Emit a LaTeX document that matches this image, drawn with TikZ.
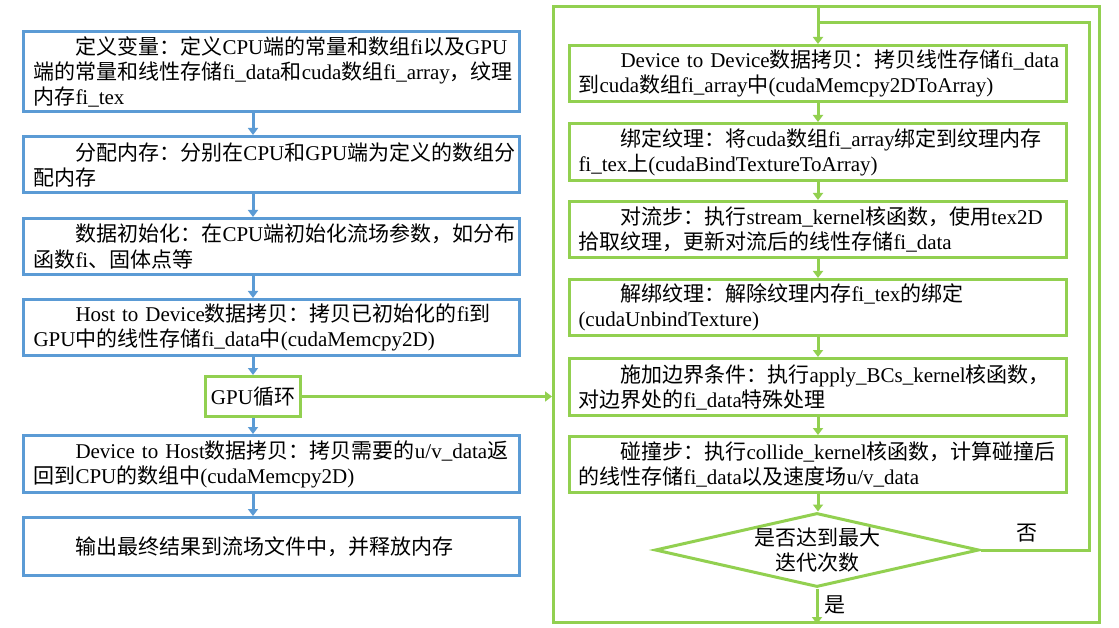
\documentclass[tikz,border=0pt]{standalone}
\usepackage{fontspec}
\setmainfont{Liberation Serif}
\newfontfamily\cjkfont{Noto Sans CJK SC}
\XeTeXinterchartokenstate=1
\newXeTeXintercharclass\cjkcls
\newcount\cjkcnt
\def\setcjkrange#1#2{\cjkcnt=#1\relax\loop\XeTeXcharclass\cjkcnt=\cjkcls\relax\ifnum\cjkcnt<#2\relax\advance\cjkcnt by 1\relax\repeat}
\setcjkrange{"4E00}{"9FFF}
\setcjkrange{"3000}{"303F}
\setcjkrange{"FF00}{"FFEF}
\XeTeXinterchartoks 0 \cjkcls = {\cjkfont}
\XeTeXinterchartoks 4095 \cjkcls = {\cjkfont}
\XeTeXinterchartoks \cjkcls 0 = {\rmfamily}
\XeTeXinterchartoks 4095 0 = {\rmfamily}
\usetikzlibrary{shapes.geometric,arrows.meta,calc}
\definecolor{lblue}{HTML}{5B9BD5}
\definecolor{lgreen}{HTML}{92D050}
\begin{document}
\begin{tikzpicture}[x=1pt,y=-1pt,
  every node/.style={font=\fontsize{21}{25}\selectfont},
  lbox/.style={draw=lblue, line width=3pt, text width=476pt, inner xsep=10pt, inner ysep=0pt, align=left},
  rbox/.style={draw=lgreen, line width=3pt, text width=479pt, inner xsep=9pt, inner ysep=0pt, align=left},
  gbox/.style={draw=lgreen, line width=3pt, inner sep=0pt},
  barrow/.style={draw=lblue, line width=3pt, -{Triangle[length=7pt,width=10pt]}},
  garrow/.style={draw=lgreen, line width=3pt, -{Triangle[length=7pt,width=10pt]}},
  gline/.style={draw=lgreen, line width=3pt},
  dia/.style={shape=diamond, draw=lgreen, line width=3pt, inner sep=0pt, minimum width=324pt, minimum height=74pt},
  plain/.style={inner sep=0pt}
]
\useasboundingbox (0,0) rectangle (1119,628);
\fill[white] (0,0) rectangle (1119,628);

% left column
\node[lbox, minimum height=80pt] (L1) at (271.5,71.5) {\hspace*{42pt}定义变量：定义CPU端的常量和数组fi以及GPU\\端的常量和线性存储fi\_data和cuda数组fi\_array，纹理\\内存fi\_tex};
\node[lbox, minimum height=56pt] (L2) at (271.5,164.5) {\hspace*{42pt}分配内存：分别在CPU和GPU端为定义的数组分\\配内存};
\node[lbox, minimum height=56pt] (L3) at (271.5,246.5) {\hspace*{42pt}数据初始化：在CPU端初始化流场参数，如分布\\函数fi、固体点等};
\node[lbox, minimum height=56pt] (L4) at (271.5,327.5) {\hspace*{42pt}Host~to~Device数据拷贝：拷贝已初始化的fi到\\GPU中的线性存储fi\_data中(cudaMemcpy2D)};
\node[gbox, minimum width=95pt, minimum height=40pt] (GPU) at (253,396.5) {GPU循环};
\node[lbox, minimum height=57pt] (L5) at (271.5,464) {\hspace*{42pt}Device~to~Host数据拷贝：拷贝需要的u/v\_data返\\回到CPU的数组中(cudaMemcpy2D)};
\node[lbox, minimum height=58pt] (L6) at (271.5,546.5) {\hspace*{42pt}输出最终结果到流场文件中，并释放内存};

\draw[barrow] (L1.south -| GPU.center) -- (L2.north -| GPU.center);
\draw[barrow] (L2.south -| GPU.center) -- (L3.north -| GPU.center);
\draw[barrow] (L3.south -| GPU.center) -- (L4.north -| GPU.center);
\draw[barrow] (L4.south -| GPU.center) -- (GPU.north);
\draw[barrow] (GPU.south) -- (L5.north -| GPU.center);
\draw[barrow] (L5.south -| GPU.center) -- (L6.north -| GPU.center);

% right loop frame
\node[draw=lgreen, line width=3pt, minimum width=546pt, minimum height=616pt, inner sep=0pt] (frame) at (826.5,314.5) {};
\node[rbox, minimum height=56pt] (R1) at (818,73.5) {\hspace*{42pt}Device~to~Device数据拷贝：拷贝线性存储fi\_data\\到cuda数组fi\_array中(cudaMemcpy2DToArray)};
\node[rbox, minimum height=57pt] (R2) at (818,152) {\hspace*{42pt}绑定纹理：将cuda数组fi\_array绑定到纹理内存\\fi\_tex上(cudaBindTextureToArray)};
\node[rbox, minimum height=56pt] (R3) at (818,229.5) {\hspace*{42pt}对流步：执行stream\_kernel核函数，使用tex2D\\拾取纹理，更新对流后的线性存储fi\_data};
\node[rbox, minimum height=56pt] (R4) at (818,307.5) {\hspace*{42pt}解绑纹理：解除纹理内存fi\_tex的绑定\\(cudaUnbindTexture)};
\node[rbox, minimum height=57pt] (R5) at (818,387) {\hspace*{42pt}施加边界条件：执行apply\_BCs\_kernel核函数，\\对边界处的fi\_data特殊处理};
\node[rbox, minimum height=56pt] (R6) at (818,464.5) {\hspace*{42pt}碰撞步：执行collide\_kernel核函数，计算碰撞后\\的线性存储fi\_data以及速度场u/v\_data};
\node[dia, label={[align=center, inner sep=0pt]center:是否达到最大\\迭代次数}] (D) at (817,550) {};
\coordinate (loopc) at (1089,23);
\node[plain] (no) at (1027,533) {否};
\node[plain] (yes) at (835,605) {是};

\draw[garrow] (GPU.east) -- (GPU.east -| frame.west);
\draw[garrow] (frame.north -| R1.north) -- (R1.north);
\draw[garrow] (R1.south) -- (R2.north);
\draw[garrow] (R2.south) -- (R3.north);
\draw[garrow] (R3.south) -- (R4.north);
\draw[garrow] (R4.south) -- (R5.north);
\draw[garrow] (R5.south) -- (R6.north);
\draw[garrow] (R6.south) -- (R6.south |- D.north);
\draw[gline] (D.east) -| (loopc) -- (loopc -| R1.north);
\draw[garrow] (D.south) -- (D.south |- frame.south);
\end{tikzpicture}
\end{document}
